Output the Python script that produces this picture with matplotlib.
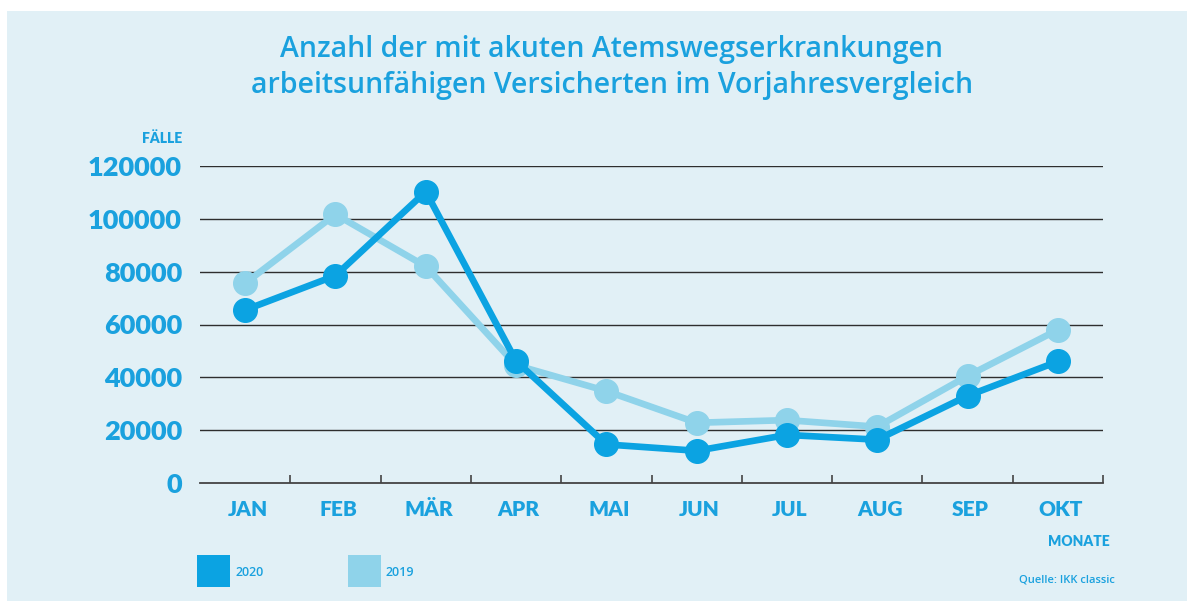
import matplotlib
matplotlib.use("Agg")
import matplotlib.pyplot as plt
from matplotlib.patches import Rectangle

months = ["JAN", "FEB", "MÄR", "APR", "MAI", "JUN", "JUL", "AUG", "SEP", "OKT"]
values_2020 = [65500, 78500, 110300, 46200, 14600, 12200, 18200, 16400, 33000, 46000]
values_2019 = [75600, 101700, 82000, 44600, 34800, 22800, 23800, 21300, 40500, 58000]
yticks = [0, 20000, 40000, 60000, 80000, 100000, 120000]
series_labels = ["2020", "2019"]

BG = "#e1f0f6"
C2020 = "#0ba3e2"
C2019 = "#8fd3ea"
TXT = "#1aa1de"

W, H = 1187, 601
fig = plt.figure(figsize=(W / 100, H / 100), dpi=100)
fig.patch.set_facecolor("white")
fig.patches.append(Rectangle((7 / W, 0), 1 - 7 / W, (H - 11) / H,
                             transform=fig.transFigure, facecolor=BG,
                             edgecolor="none", zorder=-5))

ax = fig.add_axes([200 / W, (H - 483) / H, 903 / W, 317 / H])
ax.set_facecolor("none")
ax.set_zorder(1)
x = list(range(len(months)))

ax.plot(x, values_2019, color=C2019, lw=4.8, marker="o", ms=17,
        solid_capstyle="round", zorder=3, clip_on=False)
ax.plot(x, values_2020, color=C2020, lw=4.8, marker="o", ms=17,
        solid_capstyle="round", zorder=4, clip_on=False)

ax.set_xlim(-0.5, len(months) - 0.5)
ax.set_ylim(0, 120000)
for yv in yticks[1:]:
    ax.axhline(yv, color="#2e2e2e", lw=1.0, zorder=1)

for s in ["top", "right", "left"]:
    ax.spines[s].set_visible(False)
ax.spines["bottom"].set_color("#444444")
ax.spines["bottom"].set_linewidth(1.3)

ax.set_xticks([i + 0.5 for i in x])
ax.set_xticklabels([])
ax.tick_params(axis="x", direction="in", length=6, width=1.2, color="#444444")
for i, m in enumerate(months):
    ax.text(i + 0.03, -10000, m, ha="center", va="center", color=TXT,
            fontsize=15, fontweight="heavy", family="Lato")

ax.set_yticks(yticks)
ax.set_yticklabels([str(v) for v in yticks])
ax.tick_params(axis="y", length=0, pad=13, labelcolor=TXT, labelsize=19.5)
for lab in ax.get_yticklabels():
    lab.set_fontfamily("Lato")
    lab.set_fontweight("heavy")

fig.text(612 / W, 1 - 50 / H, "Anzahl der mit akuten Atemswegserkrankungen",
         ha="center", va="center", color=TXT, fontsize=20.5,
         fontweight="semibold", family="Open Sans")
fig.text(612 / W, 1 - 85 / H, "arbeitsunfähigen Versicherten im Vorjahresvergleich",
         ha="center", va="center", color=TXT, fontsize=20.5,
         fontweight="semibold", family="Open Sans")

fig.text(182 / W, 1 - 138 / H, "FÄLLE", ha="right", va="center", color=TXT,
         fontsize=10, fontweight="heavy", family="Lato")
fig.text(1110 / W, 1 - 541 / H, "MONATE", ha="right", va="center", color=TXT,
         fontsize=10, fontweight="heavy", family="Lato")
fig.text(1115 / W, 1 - 580 / H, "Quelle: IKK classic", ha="right", va="center",
         color=TXT, fontsize=8, family="Open Sans", fontweight="semibold")

for (x0, col, lab) in [(197, C2020, series_labels[0]), (348, C2019, series_labels[1])]:
    fig.patches.append(Rectangle((x0 / W, 1 - 587 / H), 33 / W, 32 / H,
                                 transform=fig.transFigure, facecolor=col,
                                 edgecolor="none", zorder=2))
    fig.text((x0 + 38) / W, 1 - 572 / H, lab, ha="left", va="center",
             color=TXT, fontsize=9, family="Open Sans", fontweight="semibold")

fig.savefig("out.png", dpi=100, facecolor=fig.get_facecolor())
